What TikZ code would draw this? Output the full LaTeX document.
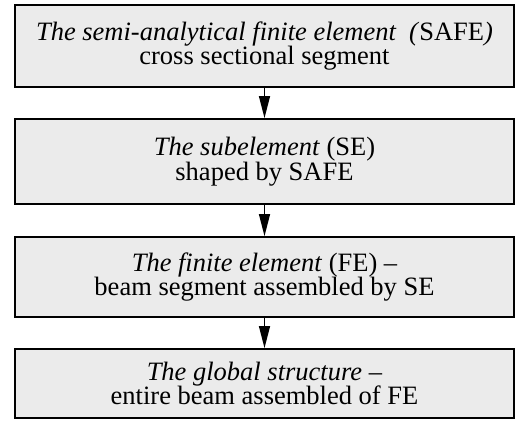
\documentclass[tikz,border=0pt]{standalone}
\usepackage{fontspec}
\setmainfont{Liberation Serif}
\usetikzlibrary{arrows.meta}

\begin{document}
\begin{tikzpicture}[x=1pt, y=-1pt,
    stage/.style={draw, line width=1.8pt, fill=gray!16, rectangle, minimum width=499pt, inner sep=0pt, align=center, font=\fontsize{26.5}{24.5}\selectfont},
    flow/.style={line width=1.3pt, -{Triangle[length=22pt,width=11pt]}}]
    \useasboundingbox (0,0) rectangle (515,421);
    \node[stage, minimum height=82pt] (safe) at (264.5, 46) {\textit{The semi-analytical finite element\ \ (}SAFE\textit{)}\\cross sectional segment};
    \node[stage, minimum height=85pt] (se) at (264.5, 161.5) {\textit{The subelement} (SE)\\shaped by SAFE};
    \node[stage, minimum height=80pt] (fe) at (264.5, 277) {\textit{The finite element} (FE) --\\beam segment assembled by SE};
    \node[stage, minimum height=69pt] (gs) at (264.5, 383.5) {\textit{The global structure --}\\entire beam assembled of FE};

    \draw[flow] (safe) -- (se) ;
    \draw[flow] (se) -- (fe) ;
    \draw[flow] (fe) -- (gs) ;
\end{tikzpicture}
\end{document}
